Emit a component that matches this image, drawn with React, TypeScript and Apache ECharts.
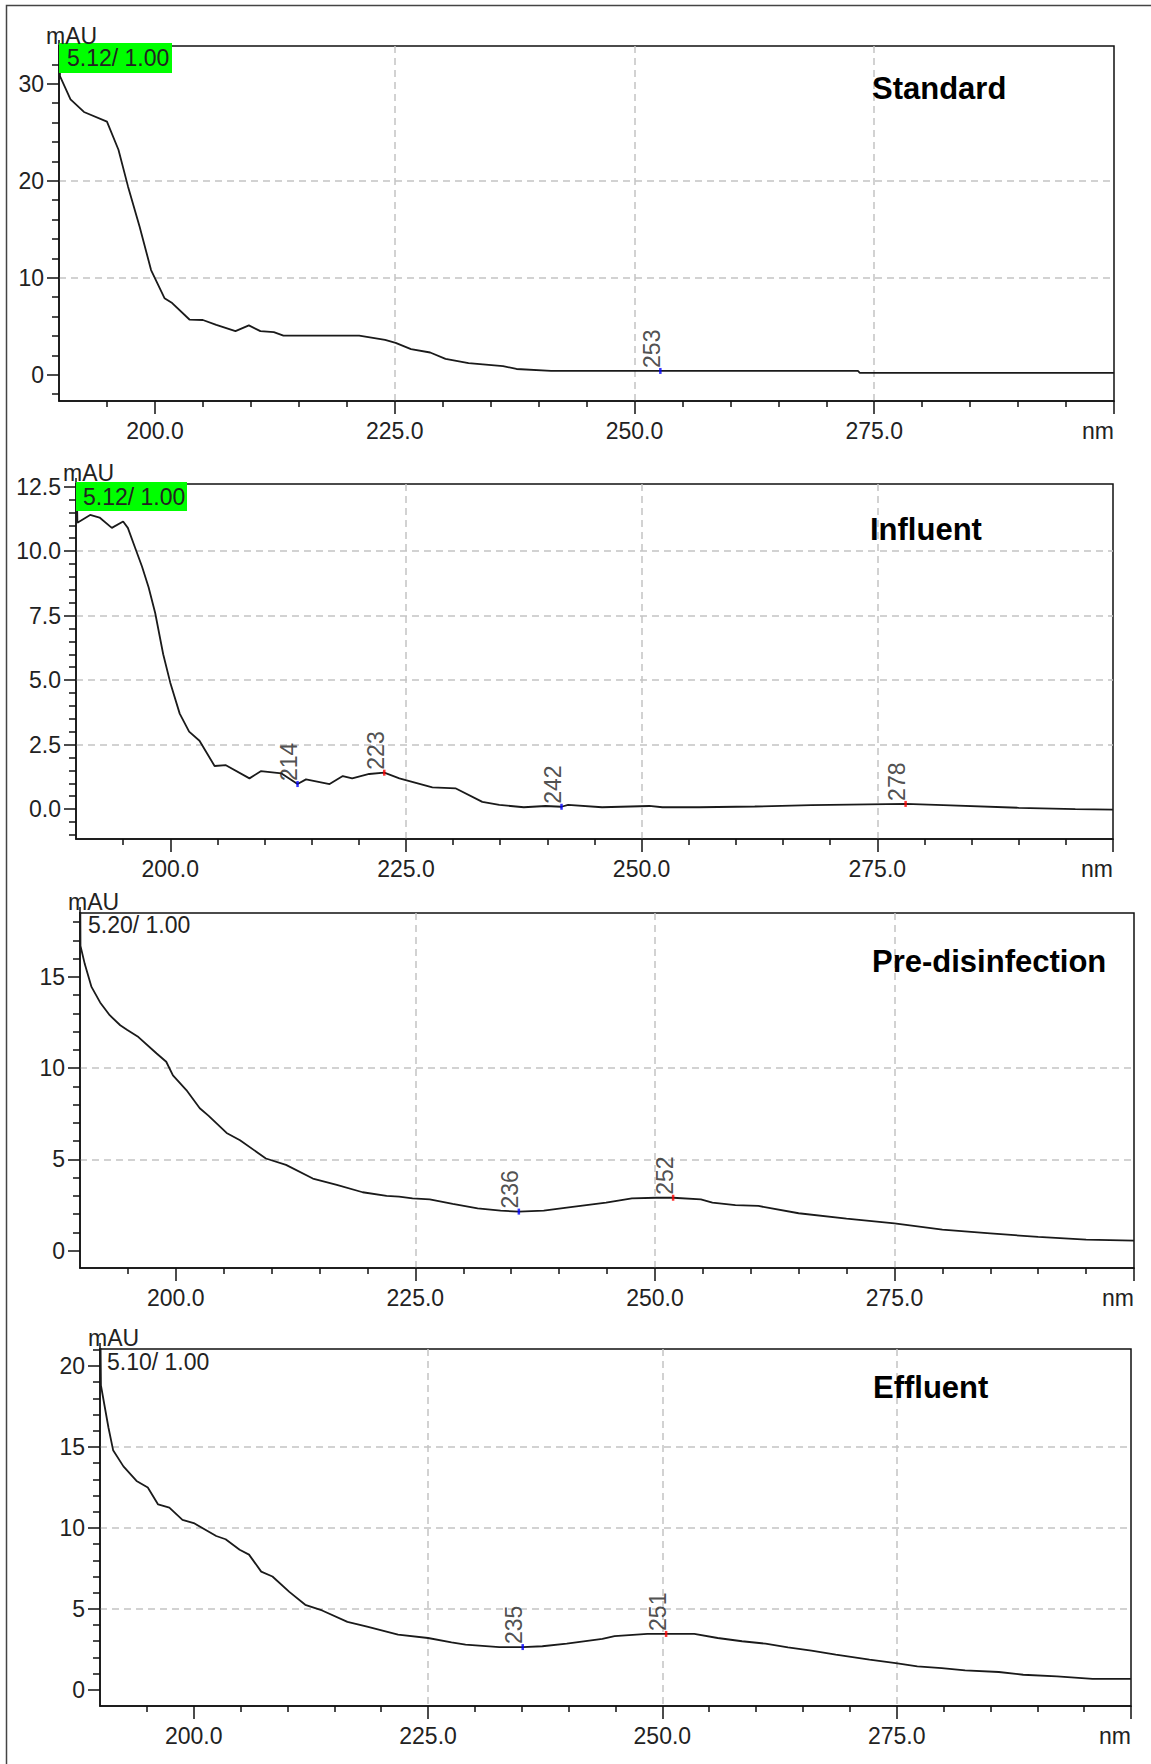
import React, { useEffect, useRef } from "react";
import * as echarts from "echarts";

// ---------------- data ----------------
const panelTitles = ["Standard", "Influent", "Pre-disinfection", "Effluent"];
const ratioLabels = ["5.12/ 1.00", "5.12/ 1.00", "5.20/ 1.00", "5.10/ 1.00"];

const xRange = [190, 300];
const xTickValues = [200, 225, 250, 275, 300];
const xLabelValues = [200, 225, 250, 275];
const xStartTick = [190];

const yMinValues = [-2.7, -1.16, -0.95, -1.0];
const yMaxValues = [33.9, 12.6, 18.5, 21.05];
const yMajorStep = [10, 2.5, 5, 5];
const yTickValues = [
  [0, 10, 20, 30],
  [0, 2.5, 5, 7.5, 10, 12.5],
  [0, 5, 10, 15],
  [0, 5, 10, 15, 20],
];
const yLabelDecimals = [0, 1, 0, 0];

const standardSpectrum = [
  [190, 40], [190.1, 30.8], [191.2, 28.4], [192.6, 27.1], [195.0, 26.1], [196.2, 23.2],
  [197.2, 19.4], [198.4, 15.3], [199.6, 10.8], [201.0, 7.9], [201.8, 7.4], [203.6, 5.7],
  [205.0, 5.65], [206.4, 5.15], [208.4, 4.5], [209.8, 5.1], [211.0, 4.5], [212.4, 4.4],
  [213.4, 4.05], [221.3, 4.05], [224.0, 3.6], [225.1, 3.3], [226.7, 2.65], [228.7, 2.3],
  [230.3, 1.65], [232.7, 1.2], [236.3, 0.9], [237.7, 0.6], [241.3, 0.4], [273.3, 0.4],
  [273.5, 0.2], [300, 0.2],
];

const influentSpectrum = [
  [190, 14], [190.15, 11.1], [191.5, 11.4], [192.5, 11.3], [193.8, 10.9], [195.0, 11.15],
  [195.5, 10.9], [196.25, 10.15], [197.0, 9.4], [197.7, 8.6], [198.4, 7.6], [199.25, 6.0],
  [200.0, 4.9], [201.0, 3.7], [202.0, 3.0], [203.1, 2.65], [204.7, 1.67], [205.9, 1.7],
  [208.4, 1.19], [209.6, 1.47], [211.8, 1.38], [213.5, 0.97], [214.4, 1.15], [216.9, 0.97],
  [218.3, 1.28], [219.3, 1.19], [221.1, 1.36], [222.7, 1.41], [224.3, 1.19], [227.8, 0.84],
  [230.3, 0.8], [233.1, 0.28], [234.9, 0.16], [237.5, 0.07], [239.8, 0.12], [241.5, 0.09],
  [242.2, 0.16], [245.8, 0.07], [250.8, 0.12], [252.2, 0.07], [256.1, 0.07], [262, 0.1],
  [268, 0.15], [278, 0.2], [282, 0.15], [290, 0.05], [296, 0.0], [300, -0.02],
];

const preDisinfectionSpectrum = [
  [190, 22], [190.05, 16.7], [190.5, 15.7], [191.2, 14.45], [192.1, 13.6], [193.1, 12.9],
  [194.2, 12.35], [194.9, 12.1], [196.1, 11.7], [198.0, 10.8], [199.0, 10.35], [199.7, 9.6],
  [201.1, 8.8], [202.5, 7.8], [203.4, 7.4], [205.3, 6.45], [206.7, 6.05], [209.4, 5.05],
  [211.5, 4.7], [214.3, 3.95], [216.8, 3.6], [219.5, 3.2], [222.0, 3.0], [223.3, 2.96],
  [224.7, 2.87], [226.5, 2.81], [228.9, 2.56], [231.5, 2.32], [233.9, 2.19], [235.8, 2.14],
  [238.4, 2.19], [241.0, 2.37], [244.9, 2.63], [247.6, 2.87], [250.1, 2.9], [251.9, 2.9],
  [254.8, 2.81], [256.0, 2.63], [258.4, 2.5], [260.8, 2.45], [265.0, 2.05], [270, 1.75],
  [275, 1.5], [280, 1.15], [285, 0.95], [290, 0.75], [295, 0.6], [300, 0.55],
];

const effluentSpectrum = [
  [190, 25], [190.1, 18.8], [190.5, 17.5], [190.9, 16.2], [191.4, 14.8], [192.5, 13.8],
  [193.9, 12.9], [195.1, 12.5], [196.2, 11.45], [197.4, 11.25], [198.8, 10.5], [200, 10.3],
  [202.4, 9.5], [203.4, 9.3], [204.9, 8.65], [205.9, 8.35], [207.2, 7.3], [208.4, 7.0],
  [210.2, 6.05], [211.9, 5.25], [213.7, 4.9], [216.4, 4.2], [218.5, 3.9], [221.8, 3.41],
  [225, 3.2], [227.5, 2.93], [229, 2.79], [232.6, 2.64], [235.1, 2.64], [237.2, 2.69],
  [239.8, 2.85], [243.6, 3.14], [244.9, 3.31], [248.4, 3.45], [250.4, 3.45], [253.4, 3.45],
  [255.9, 3.2], [258.5, 3.0], [261.0, 2.85], [263.4, 2.62], [265.9, 2.42], [268.5, 2.17],
  [272.1, 1.86], [274.9, 1.65], [277.2, 1.45], [279.8, 1.34], [282.3, 1.2], [285.9, 1.1],
  [288.5, 0.93], [292.1, 0.83], [295.9, 0.68], [300, 0.68],
];

// [nm position, mAU, label, kind] ; kind: "min" (blue) or "max" (red)
const standardPeaks = [[252.7, 0.4, "253", "min"]];
const influentPeaks = [
  [213.5, 0.97, "214", "min"],
  [222.7, 1.41, "223", "max"],
  [241.5, 0.09, "242", "min"],
  [278.0, 0.2, "278", "max"],
];
const preDisinfectionPeaks = [
  [235.8, 2.14, "236", "min"],
  [251.9, 2.9, "252", "max"],
];
const effluentPeaks = [
  [235.1, 2.64, "235", "min"],
  [250.4, 3.45, "251", "max"],
];

const spectra = [standardSpectrum, influentSpectrum, preDisinfectionSpectrum, effluentSpectrum];
const peaks = [standardPeaks, influentPeaks, preDisinfectionPeaks, effluentPeaks];

// ---------------- layout / style ----------------
const FONT = "'Liberation Sans', Arial, Helvetica, sans-serif";
const INK = "#111";
const TEXT = "#222";
const GRID_GRAY = "#c4c4c4";
const LABEL_SIZE = 23;

const gridBoxes = [
  { left: 59, top: 46, width: 1055, height: 355 },
  { left: 76, top: 484, width: 1037, height: 355 },
  { left: 80, top: 913, width: 1054, height: 355 },
  { left: 100, top: 1349, width: 1031, height: 357 },
];
const mauPos = [
  [46, 36],
  [63, 473],
  [68, 902],
  [88, 1338],
];
const ratioPos = [
  [67, 58],
  [83, 497],
  [88, 925],
  [107, 1362],
];
const greenBoxes = [
  [59, 43, 113, 30],
  [76, 482, 111, 29],
];
const titlePos = [
  [872, 88],
  [870, 529],
  [872, 961],
  [873, 1387],
];

function buildOption() {
  const grid = gridBoxes.map((g) => ({
    ...g,
    show: true,
    borderColor: INK,
    borderWidth: 1.5,
    backgroundColor: "transparent",
    containLabel: false,
    outerBoundsMode: "none",
  }));

  const xAxis: any[] = gridBoxes.map((_, i) => ({
    gridIndex: i,
    type: "value",
    min: xRange[0],
    max: xRange[1],
    minInterval: 25,
    maxInterval: 25,
    splitNumber: 4,
    axisLine: { show: true, onZero: false, lineStyle: { color: INK, width: 1.5 } },
    axisTick: {
      show: true,
      length: 13,
      customValues: xTickValues,
      lineStyle: { color: INK, width: 1.5 },
    },
    minorTick: { show: true, splitNumber: 5, length: 6, lineStyle: { color: INK, width: 1.5 } },
    axisLabel: {
      show: true,
      customValues: xLabelValues,
      color: TEXT,
      fontSize: LABEL_SIZE,
      fontFamily: FONT,
      margin: 18,
      formatter: (v: number) => v.toFixed(1),
    },
    splitLine: {
      show: true,
      showMinLine: false,
      showMaxLine: false,
      lineStyle: { color: GRID_GRAY, width: 1.5, type: [7, 5] },
    },
    name: "nm",
    nameLocation: "end",
    nameGap: 0,
    nameTextStyle: {
      color: TEXT,
      fontSize: LABEL_SIZE,
      fontFamily: FONT,
      align: "right",
      verticalAlign: "top",
      padding: [18, 0, 0, 0],
    },
  }));
  // short tick at the start wavelength (190 nm)
  gridBoxes.forEach((_, i) => {
    xAxis.push({
      gridIndex: i,
      type: "value",
      min: xRange[0],
      max: xRange[1],
      minInterval: 25,
      maxInterval: 25,
      axisLine: { show: false, onZero: false },
      axisTick: {
        show: true,
        length: 6,
        customValues: xStartTick,
        lineStyle: { color: INK, width: 1.5 },
      },
      minorTick: { show: false },
      axisLabel: { show: false },
      splitLine: { show: false },
    });
  });

  const yAxis = gridBoxes.map((_, i) => ({
    gridIndex: i,
    type: "value",
    min: yMinValues[i],
    max: yMaxValues[i],
    minInterval: yMajorStep[i],
    maxInterval: yMajorStep[i],
    splitNumber: 5,
    axisLine: { show: true, onZero: false, lineStyle: { color: INK, width: 1.5 } },
    axisTick: {
      show: true,
      length: 12,
      customValues: yTickValues[i],
      lineStyle: { color: INK, width: 1.5 },
    },
    minorTick: { show: true, splitNumber: 5, length: 7, lineStyle: { color: INK, width: 1.5 } },
    axisLabel: {
      show: true,
      customValues: yTickValues[i],
      color: TEXT,
      fontSize: LABEL_SIZE,
      fontFamily: FONT,
      margin: 15,
      formatter: (v: number) => v.toFixed(yLabelDecimals[i]),
    },
    splitLine: {
      show: true,
      showMinLine: false,
      showMaxLine: false,
      lineStyle: { color: GRID_GRAY, width: 1.5, type: [7, 5] },
    },
  }));

  const series: any[] = [];
  spectra.forEach((data, i) => {
    series.push({
      type: "line",
      xAxisIndex: i,
      yAxisIndex: i,
      data,
      showSymbol: false,
      symbol: "none",
      clip: true,
      silent: true,
      lineStyle: { color: "#1a1a1a", width: 1.8 },
      z: 3,
    });
  });
  peaks.forEach((list, i) => {
    series.push({
      type: "scatter",
      xAxisIndex: i,
      yAxisIndex: i,
      symbol: "rect",
      symbolSize: [2.5, 6],
      silent: true,
      z: 4,
      data: list.map((p) => ({
        value: [p[0], p[1]],
        name: p[2],
        itemStyle: { color: p[3] === "max" ? "#ff0000" : "#0000ff" },
      })),
      label: {
        show: true,
        formatter: "{b}",
        position: "top",
        distance: 0,
        rotate: 90,
        align: "left",
        verticalAlign: "bottom",
        offset: [0, 3],
        color: TEXT,
        fontSize: LABEL_SIZE,
        fontFamily: FONT,
      },
    });
  });

  const graphic: any[] = [
    {
      type: "rect",
      shape: { x: 6.5, y: 5.5, width: 1300, height: 1900 },
      style: { fill: "none", stroke: "#444", lineWidth: 1.5 },
      silent: true,
      z: 0,
    },
  ];
  greenBoxes.forEach((b) => {
    graphic.push({
      type: "rect",
      shape: { x: b[0], y: b[1], width: b[2], height: b[3] },
      style: { fill: "#00ff00" },
      silent: true,
      z: 5,
    });
  });
  ratioLabels.forEach((t, i) => {
    graphic.push({
      type: "text",
      x: ratioPos[i][0],
      y: ratioPos[i][1],
      style: {
        text: t,
        fill: TEXT,
        font: `${LABEL_SIZE}px ${FONT}`,
        textAlign: "left",
        textVerticalAlign: "middle",
      },
      silent: true,
      z: 6,
    });
  });
  mauPos.forEach((p) => {
    graphic.push({
      type: "text",
      x: p[0],
      y: p[1],
      style: {
        text: "mAU",
        fill: TEXT,
        font: `${LABEL_SIZE}px ${FONT}`,
        textAlign: "left",
        textVerticalAlign: "middle",
      },
      silent: true,
      z: 6,
    });
  });
  panelTitles.forEach((t, i) => {
    graphic.push({
      type: "text",
      x: titlePos[i][0],
      y: titlePos[i][1],
      style: {
        text: t,
        fill: "#000",
        font: `bold 31px ${FONT}`,
        textAlign: "left",
        textVerticalAlign: "middle",
      },
      silent: true,
      z: 6,
    });
  });

  return {
    animation: false,
    backgroundColor: "#ffffff",
    grid,
    xAxis,
    yAxis,
    series,
    graphic,
  };
}

export default function App() {
  const ref = useRef<HTMLDivElement | null>(null);
  useEffect(() => {
    document.body.style.margin = "0";
    if (!ref.current) return;
    const chart = echarts.init(ref.current, null, { renderer: "svg" });
    chart.setOption(buildOption() as any);
    return () => {
      chart.dispose();
    };
  }, []);
  return (
    <div
      ref={ref}
      style={{ position: "absolute", left: 0, top: 0, width: 1151, height: 1764, background: "#fff" }}
    />
  );
}
